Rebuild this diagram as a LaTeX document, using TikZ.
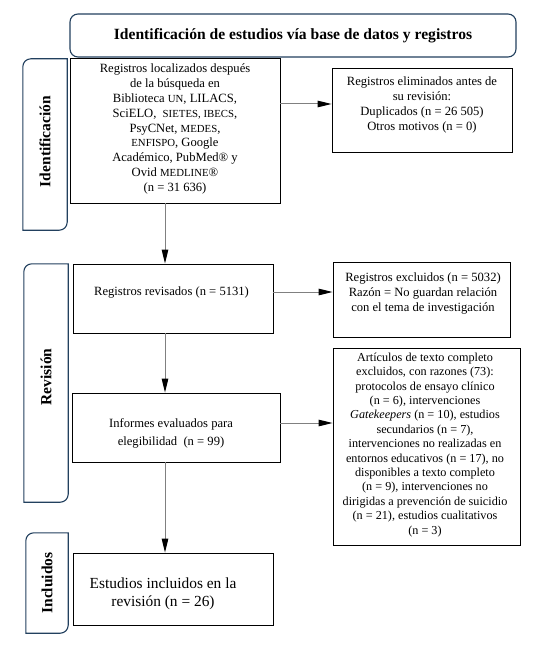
\documentclass[tikz,border=0pt]{standalone}
\usepackage{fontspec}
\setmainfont{Liberation Serif}
\usetikzlibrary{arrows.meta,calc}
\definecolor{framec}{HTML}{22405E}
\definecolor{connc}{HTML}{808080}
\newcommand{\smc}[1]{{\fontsize{10.8}{10}\selectfont #1}}
\begin{document}
\begin{tikzpicture}[x=1pt,y=1pt,
  box/.style={draw=black, line width=0.8pt, inner sep=0pt, fill=white},
  sidebox/.style={draw=none, inner sep=0pt},
  sideframe/.style={draw=framec, line width=1.1pt},
  sidetxt/.style={rotate=90, inner sep=0pt, font=\bfseries\fontsize{15.5}{17}\selectfont},
  txt/.style={align=center, inner sep=0pt, font=\fontsize{12.6}{14.8}\selectfont},
  smalltxt/.style={align=center, inner sep=0pt, font=\fontsize{12.2}{14.4}\selectfont},
  conn/.style={draw=connc, line width=1pt, -{Triangle[length=14pt,width=6.5pt,color=black]}}
]
\useasboundingbox (0,0) rectangle (550,-650);
\fill[white] (0,0) rectangle (550,-650);

% title
\node[draw=framec, rounded corners=8pt, line width=1.1pt, minimum width=446pt, minimum height=43pt, inner sep=0pt,
      font=\bfseries\fontsize{15.6}{17}\selectfont] (T) at (293,-35.5) {Identificación de estudios vía base de datos y registros};

% side labels
\node[sidebox, minimum width=44pt, minimum height=171pt] (S1) at (45,-144.5) {};
\node[sidebox, minimum width=44pt, minimum height=238pt] (S2) at (46,-383) {};
\node[sidebox, minimum width=42pt, minimum height=100pt] (S3) at (47,-583) {};
\foreach \s in {S1,S2,S3}{
  \draw[sideframe] (\s.south west) -- ([yshift=-8pt]\s.north west)
     arc[start angle=180,end angle=90,radius=8pt] -- (\s.north east)
     -- ([yshift=8pt]\s.south east) arc[start angle=0,end angle=-90,radius=8pt] -- cycle;
}
\node[sidetxt] (S1t) at ([yshift=3pt]S1.center) {Identificación};
\node[sidetxt] (S2t) at ([yshift=6pt]S2.center) {Revisión};
\node[sidetxt] (S3t) at (S3.center) {Incluidos};

% boxes
\node[box, minimum width=210pt, minimum height=145pt] (B1) at (175,-130.5) {};
\node[box, minimum width=180pt, minimum height=84pt] (R1) at (422,-110) {};
\node[box, minimum width=200pt, minimum height=69pt] (B2) at (173,-298.5) {};
\node[box, minimum width=177pt, minimum height=75pt] (R2) at (421.5,-299.5) {};
\node[box, minimum width=208pt, minimum height=69pt] (B3) at (176,-427.5) {};
\node[box, minimum width=187pt, minimum height=197pt] (R3) at (426.5,-446.5) {};
\node[box, minimum width=200pt, minimum height=72pt] (B4) at (173,-589) {};

% texts
\node[txt] (B1t) at (175,-129) {Registros localizados después\\de la búsqueda en\\Biblioteca \smc{UN}, LILACS,\\SciELO, \ \smc{SIETES, IBECS},\\PsyCNet, \smc{MEDES},\\\smc{ENFISPO}, Google\\Académico, PubMed® y\\Ovid \smc{MEDLINE}®\\(n = 31 636)};
\node[txt, font=\fontsize{12.6}{15}\selectfont] (R1t) at (422,-104.5) {Registros eliminados antes de\\su revisión:\\Duplicados (n = 26 505)\\Otros motivos (n = 0)};
\node[txt] (B2t) at (171.5,-292) {Registros revisados (n = 5131)};
\node[txt, font=\fontsize{12.6}{15}\selectfont] (R2t) at (423,-293) {Registros excluidos (n = 5032)\\Razón = No guardan relación\\con el tema de investigación};
\node[txt, font=\fontsize{12.6}{18}\selectfont] (B3t) at (171,-433) {Informes evaluados para\\elegibilidad \ (n = 99)};
\node[smalltxt] (R3t) at (425,-444.7) {Artículos de texto completo\\excluidos, con razones (73):\\protocolos de ensayo clínico\\(n = 6), intervenciones\\\textit{Gatekeepers} (n = 10), estudios\\secundarios (n = 7),\\intervenciones no realizadas en\\entornos educativos (n = 17), no\\disponibles a texto completo\\(n = 9), intervenciones no\\dirigidas a prevención de suicidio\\(n = 21), estudios cualitativos\\(n = 3)};
\node[txt, font=\fontsize{15.4}{18}\selectfont] (B4t) at (163,-594) {Estudios incluidos en la\\revisión (n = 26)};

% connectors
\coordinate (ax) at (165,0);
\coordinate (ay1) at (0,-104);
\coordinate (ay2) at (0,-292);
\coordinate (ay3) at (0,-423);
\draw[conn] (B1.south -| ax) -- (B2.north -| ax);
\draw[conn] (B2.south -| ax) -- (B3.north -| ax);
\draw[conn] (B3.south -| ax) -- (B4.north -| ax);
\draw[conn] (B1.east |- ay1) -- (R1.west |- ay1);
\draw[conn] (B2.east |- ay2) -- (R2.west |- ay2);
\draw[conn] (B3.east |- ay3) -- (R3.west |- ay3);
\end{tikzpicture}
\end{document}
